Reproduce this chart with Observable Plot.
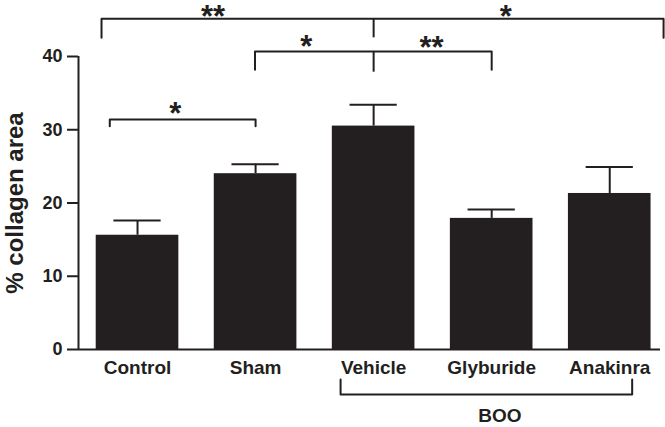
<!DOCTYPE html>
<html>
<head>
<meta charset="utf-8">
<script src="https://cdn.jsdelivr.net/npm/d3@7"></script>
<script src="https://cdn.jsdelivr.net/npm/@observablehq/plot@0.6"></script>
<style>
  html, body { margin: 0; padding: 0; background: #fff; }
  #chart svg { display: block; }
</style>
</head>
<body>
<div id="chart"></div>
<script>
// Categories and values
const groups = ["Control", "Sham", "Vehicle", "Glyburide", "Anakinra"];
const means = [15.6, 24.0, 30.5, 17.9, 21.3];
const errUpper = [17.6, 25.3, 33.4, 19.1, 24.9];
const yTicks = [0, 10, 20, 30, 40];

// Significance brackets (x in category index units, y in % units)
const bracketLeft = [-0.305, 0.995, -0.235];
const bracketRight = [4.456, 3.0, 1.0];
const bracketY = [45.15, 40.68, 31.4];
const bracketDrop = [42.55, 38.18, 30.48];
const centerTickX = [2, 2];
const centerTickTop = [45.15, 40.68];
const centerTickBottom = [42.55, 37.86];
const starText = ["**", "*", "*", "**", "*"];
const starX = [0.64, 3.12, 1.43, 2.49, 0.32];
const starY = [46.1, 46.05, 41.98, 41.77, 32.76];

// BOO group bracket below the axis
const booLabel = "BOO";
const booLeft = 1.72, booRight = 4.19, booY = -6.14, booTop = -4.1;
const booLabelX = 3.07, booLabelY = -9.93;

const ink = "#231f20";
const font = "'Liberation Sans', Arial, Helvetica, sans-serif";

const bars = groups.map((g, i) => ({i, g, mean: means[i], upper: errUpper[i]}));

const bracketPts = [];
bracketLeft.forEach((l, k) => {
  bracketPts.push({k, x: l, y: bracketDrop[k]});
  bracketPts.push({k, x: l, y: bracketY[k]});
  bracketPts.push({k, x: bracketRight[k], y: bracketY[k]});
  bracketPts.push({k, x: bracketRight[k], y: bracketDrop[k]});
});
const booPts = [
  {x: booLeft, y: booTop}, {x: booLeft, y: booY},
  {x: booRight, y: booY}, {x: booRight, y: booTop}
];
const centerTicks = centerTickX.map((x, k) => ({x, y1: centerTickTop[k], y2: centerTickBottom[k]}));
const stars = starText.map((t, k) => ({t, x: starX[k], y: starY[k]}));

const chart = Plot.plot({
  width: 665,
  height: 427,
  marginTop: 56,
  marginBottom: 78,
  marginLeft: 78,
  marginRight: 5,
  style: {fontFamily: font, color: ink, background: "#fff"},
  x: {domain: [-0.5, 4.43], axis: null},
  y: {domain: [0, 40], axis: null},
  marks: [
    // bars
    Plot.rectY(bars, {x1: d => d.i - 0.35, x2: d => d.i + 0.35, y: "mean", fill: ink}),
    // error bars (upper only)
    Plot.ruleX(bars, {x: "i", y1: "mean", y2: "upper", stroke: ink, strokeWidth: 2}),
    Plot.ruleY(bars, {y: "upper", x1: d => d.i - 0.2, x2: d => d.i + 0.2, stroke: ink, strokeWidth: 2}),
    // axes lines
    Plot.ruleX([-0.5], {y1: 0, y2: 40, stroke: ink, strokeWidth: 2}),
    Plot.ruleY([0], {stroke: ink, strokeWidth: 2}),
    Plot.axisY({
      ticks: yTicks, tickSize: 11, tickPadding: 5, tickFormat: d => d,
      fontSize: 18, fontWeight: "bold", stroke: ink, strokeWidth: 2, fill: ink
    }),
    Plot.axisX({
      ticks: [0, 1, 2, 3, 4], tickFormat: i => groups[i], tickSize: 0, tickPadding: 11,
      fontSize: 19, fontWeight: "bold", fill: ink
    }),
    // y label
    Plot.text(["% collagen area"], {
      frameAnchor: "left", textAnchor: "middle", rotate: -90, dx: -63,
      fontSize: 24, fontWeight: "bold", fill: ink
    }),
    // significance brackets
    Plot.line(bracketPts, {x: "x", y: "y", z: "k", stroke: ink, strokeWidth: 2, curve: "linear"}),
    Plot.ruleX(centerTicks, {x: "x", y1: "y1", y2: "y2", stroke: ink, strokeWidth: 2}),
    Plot.text(stars, {x: "x", y: "y", text: "t", fontSize: 31, fontWeight: "bold", fill: ink, dy: 5}),
    // BOO bracket
    Plot.line(booPts, {x: "x", y: "y", stroke: ink, strokeWidth: 2, clip: false}),
    Plot.text([booLabel], {x: booLabelX, y: booLabelY, lineAnchor: "bottom", fontSize: 19, fontWeight: "bold", fill: ink})
  ]
});
document.getElementById("chart").appendChild(chart);
</script>
</body>
</html>
